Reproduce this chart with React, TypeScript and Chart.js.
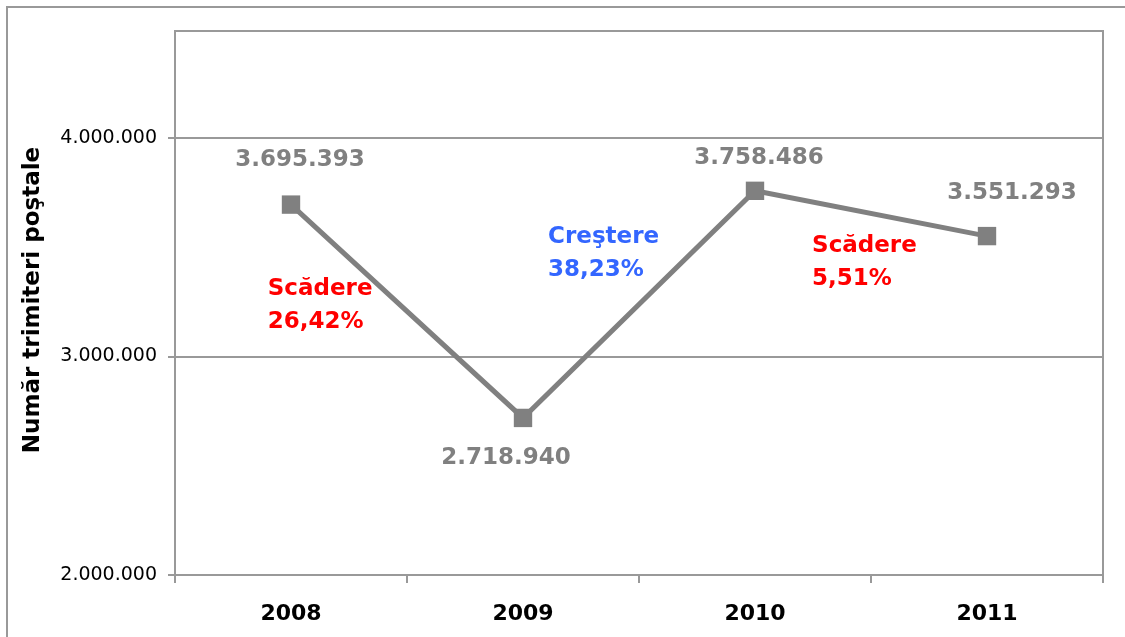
import React, { useEffect, useRef } from 'react';
import { Chart, registerables } from 'chart.js';

Chart.register(...registerables);

// ---- data ----
const years = ['2008', '2009', '2010', '2011'];
const shipments = [3695393, 2718940, 3758486, 3551293];
const yTickValues = [2000000, 3000000, 4000000];
const yMin = 2000000;
const yMax = 4490000;
const axisTitle = 'Număr trimiteri poştale';
const noteLines = [
  ['Scădere', '26,42%'],
  ['Creştere', '38,23%'],
  ['Scădere', '5,51%'],
];
const noteColors = ['#ff0000', '#3366ff', '#ff0000'];
// anchor: fractional category index (left edge of text) and value for first line
const noteAtCategory = [-0.1, 1.108, 2.246];
const noteAtValue = [3310000, 3548000, 3507000];
// value label offsets from point (px)
const labelDx = [9, -17, 4, 25];
const labelDy = [-45, 40, -33, -43];

const FONT = "'DejaVu Sans', Verdana, sans-serif";
const GRAY = '#999999';

const fmt = (v: number) => String(Math.round(v)).replace(/\B(?=(\d{3})+(?!\d))/g, '.');

const decor = {
  id: 'decor',
  beforeDraw(chart: any) {
    const ctx = chart.ctx;
    ctx.save();
    ctx.fillStyle = '#ffffff';
    ctx.fillRect(0, 0, chart.width, chart.height);
    ctx.strokeStyle = GRAY;
    ctx.lineWidth = 2;
    ctx.beginPath();
    ctx.moveTo(7, chart.height + 2);
    ctx.lineTo(7, 7);
    ctx.lineTo(chart.width + 2, 7);
    ctx.stroke();
    ctx.restore();
  },
  beforeDatasetsDraw(chart: any) {
    const ctx = chart.ctx;
    const a = chart.chartArea;
    ctx.save();
    ctx.strokeStyle = GRAY;
    ctx.lineWidth = 2;
    ctx.strokeRect(a.left, a.top, a.right - a.left, a.bottom - a.top);
    // y axis title
    ctx.translate(33, (a.top + a.bottom) / 2 - 3);
    ctx.rotate(-Math.PI / 2);
    ctx.fillStyle = '#000';
    ctx.font = `bold 23px ${FONT}`;
    ctx.textAlign = 'center';
    ctx.textBaseline = 'middle';
    ctx.fillText(axisTitle, 0, 0);
    ctx.restore();
  },
  afterDatasetsDraw(chart: any) {
    const ctx = chart.ctx;
    const meta = chart.getDatasetMeta(0);
    const xs = chart.scales.x;
    const ys = chart.scales.y;
    ctx.save();
    ctx.font = `bold 23px ${FONT}`;
    ctx.textBaseline = 'middle';
    ctx.textAlign = 'center';
    ctx.fillStyle = '#808080';
    meta.data.forEach((pt: any, i: number) => {
      ctx.fillText(fmt(shipments[i]), pt.x + labelDx[i], pt.y + labelDy[i]);
    });
    ctx.textAlign = 'left';
    noteLines.forEach((lines, i) => {
      const x = xs.getPixelForValue(noteAtCategory[i]);
      const y = ys.getPixelForValue(noteAtValue[i]);
      ctx.fillStyle = noteColors[i];
      lines.forEach((t, j) => ctx.fillText(t, x, y + j * 33));
    });
    ctx.restore();
  },
};

export default function App() {
  const ref = useRef<HTMLCanvasElement | null>(null);
  useEffect(() => {
    document.body.style.margin = '0';
    const chart = new Chart(ref.current as HTMLCanvasElement, {
      type: 'line',
      data: {
        labels: years,
        datasets: [
          {
            data: shipments,
            borderColor: '#808080',
            backgroundColor: '#808080',
            borderWidth: 5,
            pointStyle: 'rect',
            pointRadius: 13,
            pointBorderWidth: 0,
            pointBackgroundColor: '#808080',
            tension: 0,
          },
        ],
      },
      options: {
        animation: false,
        responsive: true,
        maintainAspectRatio: false,
        devicePixelRatio: 1,
        layout: { padding: { left: 0, top: 31, right: 22, bottom: 0 } },
        plugins: { legend: { display: false }, tooltip: { enabled: false }, title: { display: false } },
        scales: {
          x: {
            type: 'category',
            offset: true,
            grid: { offset: true, drawOnChartArea: false, drawTicks: true, tickLength: 8, color: GRAY, lineWidth: 2 },
            border: { display: false },
            ticks: { color: '#000', font: { family: FONT, size: 22, weight: 'bold' }, padding: 18, maxRotation: 0 },
            afterFit(s: any) {
              s.height = 62;
            },
          },
          y: {
            min: yMin,
            max: yMax,
            afterBuildTicks(s: any) {
              s.ticks = yTickValues.map((v) => ({ value: v }));
            },
            grid: { color: GRAY, lineWidth: 2, tickLength: 7, drawTicks: true },
            border: { display: false },
            ticks: {
              color: '#000',
              font: { family: FONT, size: 19 },
              padding: 11,
              callback: (v: any) => fmt(Number(v)),
            },
            afterFit(s: any) {
              s.width = 175;
            },
          },
        },
      } as any,
      plugins: [decor],
    });
    return () => chart.destroy();
  }, []);
  return (
    <div style={{ position: 'relative', width: 1125, height: 637 }}>
      <canvas ref={ref} />
    </div>
  );
}
